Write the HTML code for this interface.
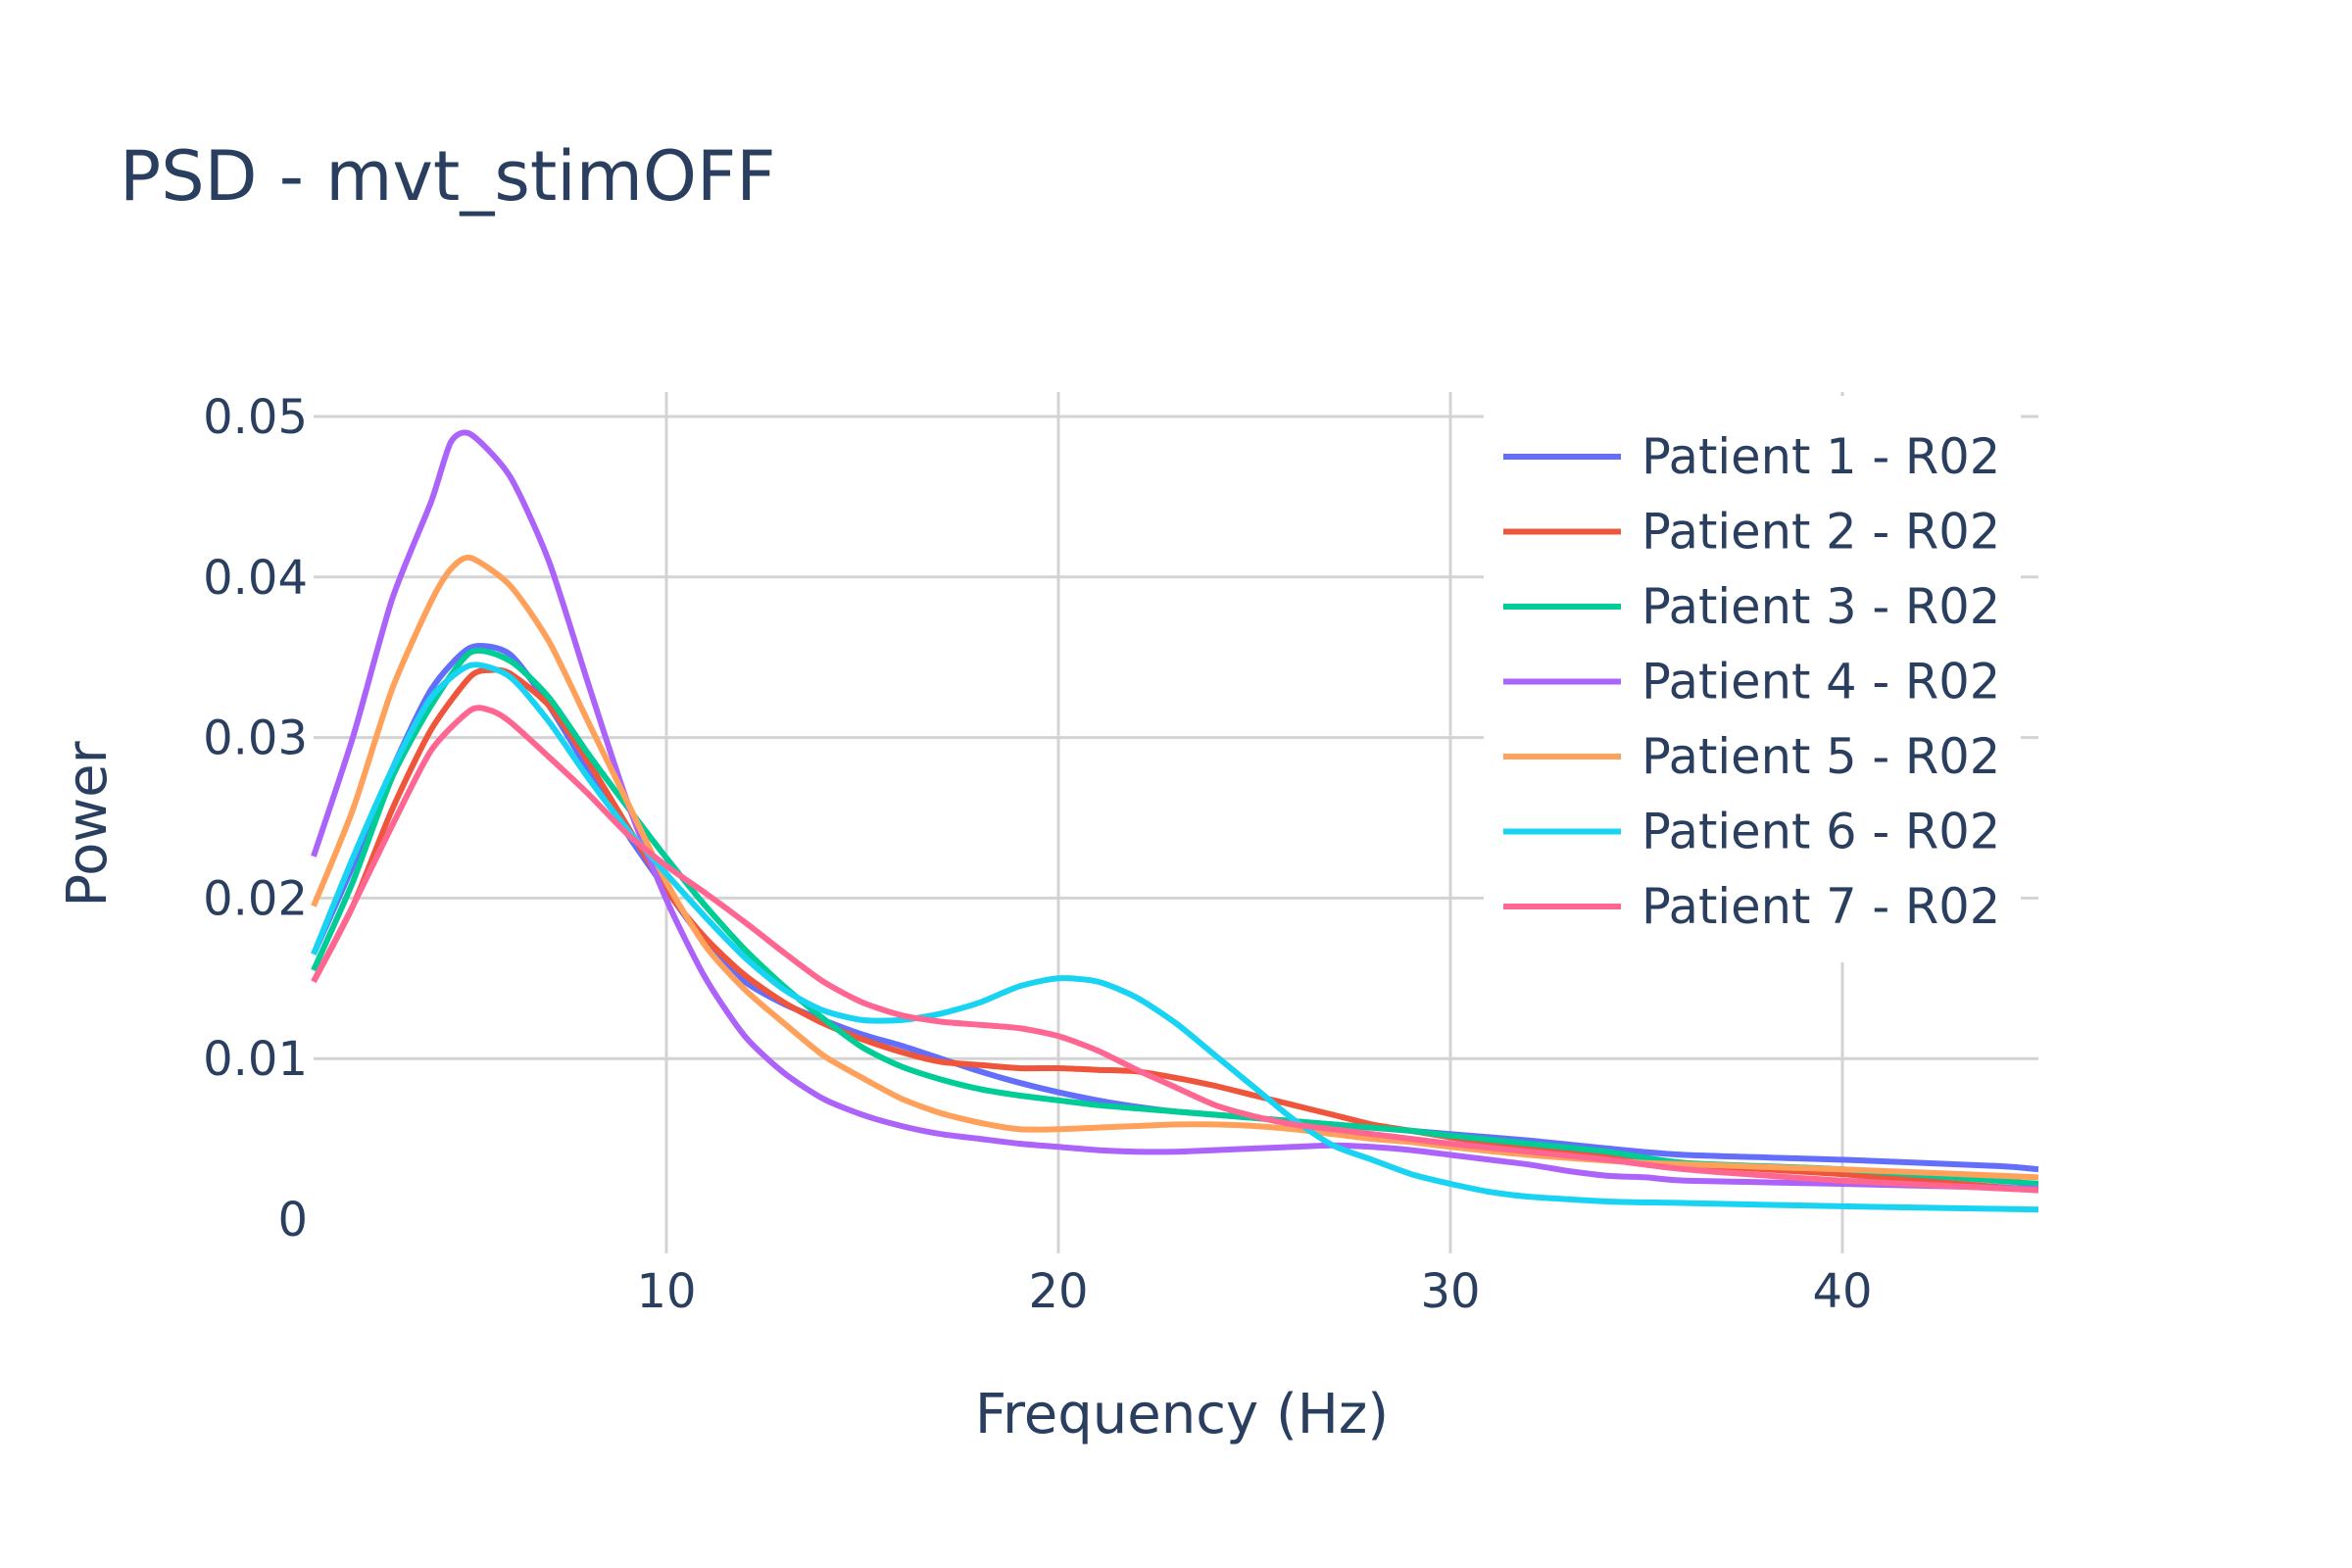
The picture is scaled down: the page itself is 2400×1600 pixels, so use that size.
<!DOCTYPE html>
<html><head><meta charset="utf-8"><style>
html,body{margin:0;padding:0;background:#fff;}
svg{display:block;font-family:"DejaVu Sans","Liberation Sans",sans-serif;}
</style></head><body>
<svg id="chart" width="2400" height="1600" viewBox="0 0 2400 1600" xmlns="http://www.w3.org/2000/svg">
<rect x="0" y="0" width="2400" height="1600" fill="#fff"/>
<text x="122" y="204" font-size="70" fill="#2a3f5f">PSD - mvt_stimOFF</text>
<g id="grid"></g>
<g id="legendbg"></g>
<g id="series"></g>
<g id="ticks"></g>
<text x="1206" y="1462" font-size="56" fill="#2a3f5f" text-anchor="middle">Frequency (Hz)</text>
<text transform="translate(108,841) rotate(-90)" font-size="56" fill="#2a3f5f" text-anchor="middle">Power</text>
<g id="legend"></g>
</svg>
<script>
const seriesNames=["Patient 1 - R02","Patient 2 - R02","Patient 3 - R02","Patient 4 - R02","Patient 5 - R02","Patient 6 - R02","Patient 7 - R02"];
const colors=["#636efa","#EF553B","#00cc96","#ab63fa","#FFA15A","#19d3f3","#FF6692"];
const xTicks=[10,20,30,40];
const yTicks=[0,0.01,0.02,0.03,0.04,0.05];
const yTickLabels=["0","0.01","0.02","0.03","0.04","0.05"];
const fBase=[1,2,3,4,5,6,7,8,9,10,11,12,13,14,15,16,17,18,19,20,21,22,23,24,25,26,27,28,29,30,32,34,36,40,44,45];
const p1=[0.0165,0.022,0.028,0.033,0.0356,0.0352,0.032,0.028,0.024,0.0205,0.0172,0.0148,0.0134,0.0124,0.0115,0.0108,0.0100,0.0092,0.0085,0.0079,0.0074,0.0070,0.0067,0.0065,0.0063,0.0061,0.0059,0.0057,0.0055,0.0053,0.0049,0.0044,0.0040,0.0037,0.0033,0.0031];
const f2=[1,2,3,4,5,5.5,6,7,8,9,10,11,12,13,14,15,16,17,18,19,20,21,22,23,24,25,26,27,28,29,30,32,34,36,40,45];
const p2=[0.0148,0.0195,0.0255,0.0305,0.0338,0.0342,0.034,0.032,0.0285,0.0245,0.0205,0.0175,0.0152,0.0135,0.0122,0.0112,0.0104,0.0098,0.0096,0.0094,0.0094,0.0093,0.0092,0.0088,0.0083,0.0077,0.0071,0.0065,0.0059,0.0055,0.0051,0.0044,0.0039,0.0034,0.0028,0.0018];
const f3=[1,2,3,4,5,6,7,8,9,10,11,12,13,14,15,16,17,18,19,20,21,22,23,24,25,26,27,28,29,30,32,34,36,40,45];
const p3=[0.0155,0.021,0.0275,0.032,0.0353,0.0348,0.0325,0.029,0.0257,0.0225,0.0195,0.0168,0.0145,0.0125,0.0107,0.0095,0.0087,0.0081,0.0077,0.0074,0.0071,0.0069,0.0067,0.0065,0.0063,0.0061,0.0059,0.0057,0.0055,0.0052,0.0047,0.0042,0.0035,0.0031,0.0022];
const f4=[1,2,3,4,4.5,5,6,7,8,9,10,11,12,13,14,15,16,17,18,19,20,21,22,23,24,25,26,27,28,29,30,31,32,33,34,35,36,40,45];
const p4=[0.0226,0.030,0.0386,0.0447,0.0484,0.0489,0.0463,0.041,0.0334,0.026,0.0199,0.015,0.0114,0.0091,0.0075,0.0065,0.0058,0.0053,0.0050,0.0047,0.0045,0.0043,0.0042,0.0042,0.0043,0.0044,0.0045,0.0046,0.0045,0.0043,0.0040,0.0037,0.0034,0.0030,0.0027,0.0026,0.0024,0.0022,0.0019];
const f5=[1,2,3,4,4.5,5,6,7,8,9,10,11,12,13,14,15,16,17,18,19,20,21,22,23,24,25,26,27,28,29,30,32,35,40,45];
const p5=[0.0195,0.0255,0.033,0.0385,0.0405,0.0412,0.0395,0.036,0.031,0.026,0.021,0.017,0.0143,0.0122,0.0102,0.0088,0.0075,0.0066,0.006,0.0056,0.0056,0.0057,0.0058,0.0059,0.0059,0.0058,0.0056,0.0053,0.0050,0.0048,0.0045,0.0040,0.0035,0.0031,0.0026];
const f6=[1,2,3,4,5,6,7,8,9,10,11,12,13,14,15,16,17,18,19,20,21,22,23,24,25,26,27,28,29,30,31,32,34,36,40,45];
const p6=[0.0165,0.0225,0.028,0.0325,0.0345,0.0338,0.031,0.0275,0.0243,0.0215,0.0188,0.0163,0.0143,0.013,0.0124,0.0124,0.0128,0.0135,0.0145,0.015,0.0148,0.0138,0.0122,0.0102,0.0082,0.0062,0.0046,0.0037,0.0028,0.0022,0.0017,0.0014,0.0011,0.0010,0.0008,0.0006];
const f7=[1,2,3,4,5,5.5,6,7,8,9,10,11,12,13,14,15,16,17,18,19,20,21,22,23,24,25,26,27,28,29,30,32,34,36,40,45];
const p7=[0.0148,0.0195,0.0245,0.0292,0.0317,0.0317,0.031,0.0288,0.0265,0.024,0.022,0.0203,0.0185,0.0166,0.0148,0.0135,0.0127,0.0123,0.0121,0.0119,0.0114,0.0105,0.0093,0.0082,0.0071,0.0064,0.0059,0.0056,0.0053,0.0050,0.0047,0.0042,0.0037,0.0031,0.0024,0.0018];
const seriesX=[fBase,f2,f3,f4,f5,f6,f7];
const seriesY=[p1,p2,p3,p4,p5,p6,p7];

const NS="http://www.w3.org/2000/svg";
const L=320,R=2080,T=400,B=1279;
const xMin=1,xMax=45,y0px=1244,yPerUnit=16380;
function xs(v){return L+(v-xMin)/(xMax-xMin)*(R-L);}
function ys(v){return y0px-v*yPerUnit;}
function mk(tag,attrs,parent){const e=document.createElementNS(NS,tag);for(const k in attrs)e.setAttribute(k,attrs[k]);parent.appendChild(e);return e;}
function smoothPath(P){
  let d='M'+P[0][0].toFixed(1)+','+P[0][1].toFixed(1);
  for(let i=0;i<P.length-1;i++){
    const p0=P[Math.max(0,i-1)],p1_=P[i],p2_=P[i+1],p3_=P[Math.min(P.length-1,i+2)];
    const t=0.12;
    const c1x=p1_[0]+(p2_[0]-p0[0])*t,c1y=p1_[1]+(p2_[1]-p0[1])*t;
    const c2x=p2_[0]-(p3_[0]-p1_[0])*t,c2y=p2_[1]-(p3_[1]-p1_[1])*t;
    d+=' C'+c1x.toFixed(1)+','+c1y.toFixed(1)+' '+c2x.toFixed(1)+','+c2y.toFixed(1)+' '+p2_[0].toFixed(1)+','+p2_[1].toFixed(1);
  }
  return d;
}
const grid=document.getElementById('grid'),ticks=document.getElementById('ticks');
yTicks.forEach((v,i)=>{
  if(v>0){const g=mk('line',{x1:L,x2:R,y1:ys(v),y2:ys(v),stroke:'#d3d3d3','stroke-width':3},grid);
  
  }
  const t=mk('text',{x:314,y:ys(v)+17,'font-size':48,fill:'#2a3f5f','text-anchor':'end'},ticks);
  t.textContent=yTickLabels[i];
  
  
});
xTicks.forEach(v=>{
  const g=mk('line',{x1:xs(v),x2:xs(v),y1:T,y2:B,stroke:'#d3d3d3','stroke-width':3},grid);
  
  
  const t=mk('text',{x:xs(v),y:1334,'font-size':48,fill:'#2a3f5f','text-anchor':'middle'},ticks);
  t.textContent=v;
  
  
});
const lb=mk('rect',{x:1514,y:404,width:548,height:578,fill:'#fff'},document.getElementById('legendbg'));


const sg=document.getElementById('series'),lg=document.getElementById('legend');
seriesY.forEach((ys_,i)=>{
  const P=ys_.map((v,j)=>[xs(seriesX[i][j]),ys(v)]);
  const pl=mk('path',{d:smoothPath(P),fill:'none',stroke:colors[i],'stroke-width':6,'stroke-linejoin':'round'},sg);
  
  
  const yy=466+i*76.5;
  const g=mk('g',{},lg);
  
  
  mk('line',{x1:1534,x2:1654,y1:yy,y2:yy,stroke:colors[i],'stroke-width':6},g);
  const t=mk('text',{x:1675,y:yy+17,'font-size':49.5,fill:'#2a3f5f'},g);
  t.textContent=seriesNames[i];
});
</script>
</body></html>
